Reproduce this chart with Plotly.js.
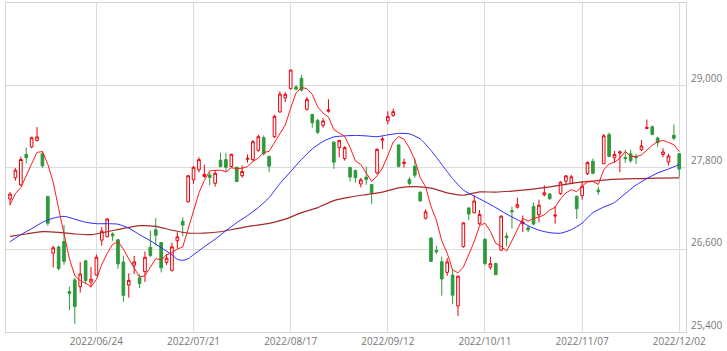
<!DOCTYPE html>
<html><head><meta charset="utf-8">
<script src="https://cdn.plot.ly/plotly-3.0.1.min.js"></script>
<style>html,body{margin:0;padding:0;background:#fff}#chart{width:727px;height:351px}</style>
</head><body><div id="chart"></div>
<script>
const dates = [
"2022/06/02","2022/06/03","2022/06/06","2022/06/07","2022/06/08","2022/06/09","2022/06/10","2022/06/13","2022/06/14","2022/06/15","2022/06/16","2022/06/17","2022/06/20","2022/06/21","2022/06/22","2022/06/23","2022/06/24","2022/06/27","2022/06/28","2022/06/29","2022/06/30",
"2022/07/01","2022/07/04","2022/07/05","2022/07/06","2022/07/07","2022/07/08","2022/07/11","2022/07/12","2022/07/13","2022/07/14","2022/07/15","2022/07/19","2022/07/20","2022/07/21","2022/07/22","2022/07/25","2022/07/26","2022/07/27","2022/07/28","2022/07/29",
"2022/08/01","2022/08/02","2022/08/03","2022/08/04","2022/08/05","2022/08/08","2022/08/09","2022/08/10","2022/08/12","2022/08/15","2022/08/16","2022/08/17","2022/08/18","2022/08/19","2022/08/22","2022/08/23","2022/08/24","2022/08/25","2022/08/26","2022/08/29","2022/08/30","2022/08/31",
"2022/09/01","2022/09/02","2022/09/05","2022/09/06","2022/09/07","2022/09/08","2022/09/09","2022/09/12","2022/09/13","2022/09/14","2022/09/15","2022/09/16","2022/09/20","2022/09/21","2022/09/22","2022/09/26","2022/09/27","2022/09/28","2022/09/29","2022/09/30",
"2022/10/03","2022/10/04","2022/10/05","2022/10/06","2022/10/07","2022/10/11","2022/10/12","2022/10/13","2022/10/14","2022/10/17","2022/10/18","2022/10/19","2022/10/20","2022/10/21","2022/10/24","2022/10/25","2022/10/26","2022/10/27","2022/10/28","2022/10/31",
"2022/11/01","2022/11/02","2022/11/04","2022/11/07","2022/11/08","2022/11/09","2022/11/10","2022/11/11","2022/11/14","2022/11/15","2022/11/16","2022/11/17","2022/11/18","2022/11/21","2022/11/22","2022/11/24","2022/11/25","2022/11/28","2022/11/29","2022/11/30",
"2022/12/01","2022/12/02"];

const open = [27340,27650,27545,27990,28100,28195,28000,27375,26550,26640,26720,25990,26160,26060,26440,26128,26230,26740,26790,26830,26745,
26420,26085,26375,26190,26280,26635,26890,26705,26415,26300,26730,27015,27300,27620,27765,27670,27690,27570,27905,27915,
27815,27805,27680,27920,27915,28050,28235,27960,28250,28610,28815,28950,28975,29100,28650,28575,28488,28415,28620,28170,28090,27930,
27800,27756,27560,27660,27552,27720,28200,28480,28560,28130,27860,27625,27818,27440,27060,26770,26590,26425,26270,26230,
25780,26645,27210,27140,26980,26755,26345,26400,26595,26800,27170,27220,26980,26920,27230,27110,27400,27415,27090,27420,
27600,27570,27380,27390,27710,27890,27470,27855,28280,27940,28010,27945,28000,27960,28060,28370,28395,28230,27990,27880,
28270,28000];
const high = [27440,27790,27960,28090,28250,28389,28040,27390,26660,26660,26960,26060,26190,26420,26450,26350,26530,26930,27060,26855,26760,
26510,26255,26510,26245,26575,26878,27062,26710,26535,26705,26855,27073,27690,27820,27950,27840,27730,27760,28015,28015,
28000,27810,27830,27990,28200,28280,28270,27975,28570,28910,28900,29222,29000,29150,28830,28580,28510,28520,28795,28180,28200,28110,
27810,27770,27650,27815,27555,28080,28250,28620,28660,28135,27930,27660,27930,27450,27190,26780,26660,26500,26480,26320,
26220,27000,27220,27400,27180,26760,26500,26410,27100,26850,27230,27360,27100,26950,27290,27330,27540,27420,27240,27600,
27690,27690,27390,27600,27890,27930,27520,28290,28310,28040,28050,28060,28060,28000,28200,28500,28410,28250,28080,28000,
28430,28010];
const low = [27250,27610,27530,27855,28080,28180,27795,26950,26340,26300,26380,25720,25520,25975,26100,26050,26220,26660,26780,26730,26320,
25840,25900,26245,26040,26130,26495,26660,26270,26380,26280,26620,26795,27290,27560,27730,27650,27540,27520,27800,27730,
27800,27590,27650,27870,27890,28030,27975,27730,28230,28600,28755,28940,28930,28910,28630,28380,28290,28380,28600,27780,27950,27900,
27595,27580,27510,27548,27270,27700,28070,28430,28540,27800,27800,27540,27650,27300,27040,26420,26540,25930,26220,25805,
25635,26630,27030,27130,26960,26370,26310,26230,26580,26650,26910,27200,26860,26860,26960,27000,27380,27330,26980,27400,
27540,27560,27050,27330,27690,27700,27400,27850,27950,27870,27730,27870,27870,27850,28040,28360,28270,28100,27950,27830,
28200,27660];
const close = [27413,27761,27916,27943,28234,28246,27824,26987,26629,26326,26431,25963,25771,26246,26149,26171,26491,26871,27049,26804,26393,
25935,26153,26423,26107,26490,26517,26812,26336,26478,26643,26788,26961,27680,27803,27915,27699,27655,27716,27815,27802,
27993,27595,27742,27932,28176,28249,27999,27819,28547,28871,28868,29222,28942,28930,28794,28452,28313,28479,28641,27878,28195,28091,
27661,27650,27619,27626,27430,28065,28214,28542,28614,27818,27875,27567,27688,27313,27153,26431,26571,26173,26422,25937,
26215,26992,27120,27311,27116,26401,26397,26237,27090,26775,27156,27257,27006,26890,26974,27250,27431,27345,27105,27587,
27678,27663,27199,27527,27872,27716,27446,28263,27963,27990,28028,27930,27899,27944,28115,28383,28283,28162,28027,27968,
28226,27777];

// 5-day average: first four values, the rest from the closes
const ma5Head = [27259,27420,27507,27668];

// 25-day average at these day indices
const ma25At = [0,2,4,6,8,10,12,14,16,18,20,22,24,26,28,30,31,32,33,34,36,38,40,42,44,46,48,50,52,54,56,58,60,62,64,66,68,70,72,74,76,78,80,82,84,86,88,90,92,94,96,98,100,102,104,106,108,110,112,114,116,118,120,122,124];
const ma25 = [26717,26820,26907,27000,27061,27088,27046,27002,26980,26980,26973,26915,26820,26732,26630,26527,26461,26446,26468,26527,26644,26754,26878,26995,27098,27215,27361,27566,27741,27917,28071,28180,28246,28261,28268,28261,28249,28276,28298,28290,28217,28049,27844,27639,27471,27383,27302,27215,27120,27039,26951,26885,26849,26841,26893,26988,27141,27222,27288,27420,27544,27639,27720,27778,27844];

// 75-day average at these day indices
const ma75At = [0,3,6,9,12,15,18,21,24,27,30,33,36,39,42,45,48,51,54,57,60,63,66,69,72,75,78,81,84,87,90,93,96,99,102,105,108,111,114,117,120,124];
const ma75 = [26795,26830,26863,26854,26830,26820,26863,26912,26951,26941,26885,26844,26844,26863,26907,26951,26985,27046,27141,27215,27317,27368,27405,27441,27503,27522,27500,27430,27395,27444,27441,27456,27478,27507,27544,27580,27603,27624,27634,27639,27646,27649];

const tickIdx = [16,34,52,70,88,106,124];
const yTicks = [25400,26600,27800,29000];

const ma5 = close.map((c,i) => i < 4 ? ma5Head[i] : close.slice(i-4,i+1).reduce((a,b)=>a+b,0)/5);

const traces = [
  {type:'candlestick', x:dates, open:open, high:high, low:low, close:close,
   increasing:{line:{color:'#e8000b', width:1}, fillcolor:'#ffffff'},
   decreasing:{line:{color:'#2f9a3b', width:1}, fillcolor:'#2f9a3b'},
   whiskerwidth:0, showlegend:false, hoverinfo:'skip'},
  {type:'scatter', mode:'lines', x:ma75At.map(i=>dates[i]), y:ma75,
   line:{color:'#a52a2a', width:1.2, shape:'spline', smoothing:0.6}, showlegend:false, hoverinfo:'skip'},
  {type:'scatter', mode:'lines', x:ma25At.map(i=>dates[i]), y:ma25,
   line:{color:'#2a2aff', width:1, shape:'spline', smoothing:0.6}, showlegend:false, hoverinfo:'skip'},
  {type:'scatter', mode:'lines', x:dates, y:ma5,
   line:{color:'#ff1a1a', width:1}, showlegend:false, hoverinfo:'skip'}
];

const layout = {
  width:727, height:351,
  margin:{l:6, r:41, t:3, b:19},
  paper_bgcolor:'#ffffff', plot_bgcolor:'#ffffff',
  font:{family:'"Open Sans", "Noto Sans", sans-serif', size:10, color:'#777'},
  xaxis:{type:'category', range:[-0.75,125.25], rangeslider:{visible:false},
    tickmode:'array', tickvals:tickIdx.map(i=>dates[i]), ticktext:tickIdx.map(i=>dates[i]),
    showgrid:true, gridcolor:'#dcdcdc', gridwidth:1, ticks:'', showline:true, linecolor:'#d4d4d4', mirror:true,
    tickfont:{size:10, color:'#777'}, zeroline:false, fixedrange:true},
  yaxis:{side:'right', range:[25400,30200], tickmode:'array', tickvals:yTicks,
    ticktext:yTicks.map(v=>v.toLocaleString('en-US')),
    showgrid:true, gridcolor:'#dcdcdc', gridwidth:1, ticks:'', showline:true, linecolor:'#d4d4d4', mirror:true,
    tickfont:{size:10, color:'#777'}, ticklabelshift:-7, ticklabelstandoff:2, zeroline:false, fixedrange:true},
  showlegend:false
};

Plotly.newPlot('chart', traces, layout, {staticPlot:true, displayModeBar:false});
</script></body></html>
